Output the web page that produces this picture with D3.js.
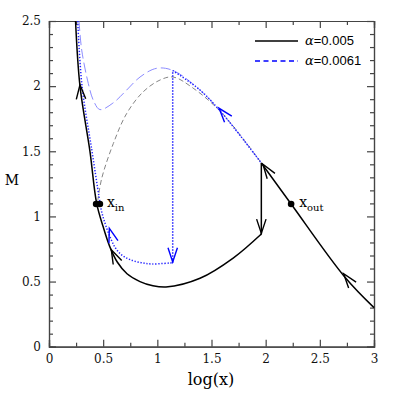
<!DOCTYPE html>
<html>
<head>
<meta charset="utf-8">
<script src="https://cdn.jsdelivr.net/npm/d3@7"></script>
<style>
  body { margin: 0; background: #fff; }
  svg text { font-family: "DejaVu Serif", "Liberation Serif", serif; }
</style>
</head>
<body>
<div id="chart"></div>
<script>
// alpha = 0.005 (black), solid branch: top -> x_in -> minimum -> jump point
const blackLower = [[0.245, 2.5], [0.286, 2.0], [0.378, 1.5], [0.44, 1.10], [0.50, 0.92],
  [0.56, 0.77], [0.63, 0.65], [0.72, 0.56], [0.84, 0.50], [0.95, 0.47], [1.08, 0.458],
  [1.394, 0.525], [1.70, 0.68], [1.96, 0.865]];
const blackJump = [[1.96, 0.865], [1.96, 1.41]];
const blackUpper = [[1.96, 1.41], [2.235, 1.095], [2.73, 0.535], [3.0, 0.30]];
// alpha = 0.005 unstable branch (grey dashed)
const blackDashed = [[0.45, 1.12], [0.486, 1.29], [0.594, 1.56], [0.717, 1.79], [0.87, 1.957],
  [1.025, 2.047], [1.145, 2.07], [1.33, 1.985], [1.6, 1.79], [1.96, 1.41]];
// alpha = 0.0061 (blue)
const blueDashed = [[0.277, 2.5], [0.302, 2.277], [0.363, 2.02], [0.41, 1.89], [0.47, 1.82],
  [0.59, 1.87], [0.717, 1.97], [0.84, 2.07], [0.994, 2.137], [1.145, 2.12], [1.394, 1.97], [1.6, 1.79], [1.96, 1.41]];
const blueDotted = [[0.265, 2.5], [0.305, 2.0], [0.397, 1.5], [0.462, 1.15], [0.485, 1.04],
  [0.52, 0.94], [0.565, 0.84], [0.61, 0.762], [0.67, 0.705], [0.75, 0.668], [0.85, 0.645],
  [0.95, 0.635], [1.142, 0.645]];
const blueJump = [[1.142, 0.645], [1.142, 2.12]];
const blueUpper = [[1.142, 2.12], [1.394, 1.97], [1.6, 1.79], [1.96, 1.41]];

// arrows: tip point and a point behind it (direction of travel)
const arrows = [
  { tip: [0.286, 2.01], from: [0.30, 1.85], color: '#000' },
  { tip: [0.575, 0.745], from: [0.63, 0.65], color: '#000' },
  { tip: [1.96, 0.87], from: [1.96, 1.05], color: '#000' },
  { tip: [1.975, 1.40], from: [2.10, 1.25], color: '#000' },
  { tip: [2.72, 0.56], from: [2.85, 0.42], color: '#000' },
  { tip: [0.557, 0.909], from: [0.60, 0.79], color: '#0000ff' },
  { tip: [1.142, 0.65], from: [1.142, 0.84], color: '#0000ff' },
  { tip: [1.57, 1.83], from: [1.70, 1.70], color: '#0000ff' }
];
const dots = [[0.435, 1.095], [0.47, 1.095], [2.235, 1.095]];
const legendItems = ['0.005', '0.0061'];

const width = 395, height = 395;
const svg = d3.select('#chart').append('svg')
  .attr('width', width).attr('height', height);

const x = d3.scaleLinear().domain([0, 3]).range([49, 374]);
const y = d3.scaleLinear().domain([0, 2.5]).range([346.7, 21]);

const line = d3.line().x(d => x(d[0])).y(d => y(d[1])).curve(d3.curveCatmullRom.alpha(0.5));
const straight = d3.line().x(d => x(d[0])).y(d => y(d[1]));

// axes, ticks inward on all four sides
const axisColor = '#444';
function styleAxis(g) {
  g.select('.domain').attr('stroke', axisColor).attr('stroke-width', 1.2);
  g.selectAll('.tick line').attr('stroke', axisColor).attr('stroke-width', 1.2);
  g.selectAll('.tick text').attr('fill', '#111').style('font-size', '12px')
    .style('font-family', '"DejaVu Serif", serif');
}
const xMajor = [0, 0.5, 1, 1.5, 2, 2.5, 3];
const xMinor = d3.range(0.25, 3, 0.5);
const yMajor = [0, 0.5, 1, 1.5, 2, 2.5];
const yMinor = d3.range(0, 2.5, 0.1).filter(v => Math.abs(v * 2 - Math.round(v * 2)) > 1e-6);

svg.append('g').attr('transform', `translate(0,${y(0)})`)
  .call(d3.axisBottom(x).tickValues(xMajor).tickSize(-7).tickPadding(8).tickFormat(d3.format('')))
  .call(styleAxis);
svg.append('g').attr('transform', `translate(0,${y(0)})`)
  .call(d3.axisBottom(x).tickValues(xMinor).tickSize(-4).tickFormat(''))
  .call(styleAxis);
svg.append('g').attr('transform', `translate(0,${y(2.5)})`)
  .call(d3.axisTop(x).tickValues(xMajor).tickSize(-7).tickFormat(''))
  .call(styleAxis);
svg.append('g').attr('transform', `translate(0,${y(2.5)})`)
  .call(d3.axisTop(x).tickValues(xMinor).tickSize(-4).tickFormat(''))
  .call(styleAxis);
svg.append('g').attr('transform', `translate(${x(0)},0)`)
  .call(d3.axisLeft(y).tickValues(yMajor).tickSize(-7).tickPadding(8).tickFormat(d3.format('')))
  .call(styleAxis);
svg.append('g').attr('transform', `translate(${x(0)},0)`)
  .call(d3.axisLeft(y).tickValues(yMinor).tickSize(-4).tickFormat(''))
  .call(styleAxis);
svg.append('g').attr('transform', `translate(${x(3)},0)`)
  .call(d3.axisRight(y).tickValues(yMajor).tickSize(-7).tickFormat(''))
  .call(styleAxis);
svg.append('g').attr('transform', `translate(${x(3)},0)`)
  .call(d3.axisRight(y).tickValues(yMinor).tickSize(-4).tickFormat(''))
  .call(styleAxis);

// axis titles
svg.append('text').attr('x', 211).attr('y', 385).attr('text-anchor', 'middle')
  .style('font-size', '16px').text('log(x)');
svg.append('text').attr('x', 12).attr('y', 185).attr('text-anchor', 'middle')
  .style('font-size', '14px').text('M');

const plot = svg.append('g');

// unstable branches
plot.append('path').attr('d', line(blackDashed)).attr('fill', 'none')
  .attr('stroke', '#777').attr('stroke-width', 0.9).attr('stroke-dasharray', '5,3');
plot.append('path').attr('d', line(blueDashed)).attr('fill', 'none')
  .attr('stroke', '#8c8cff').attr('stroke-width', 1).attr('stroke-dasharray', '10,4');

// blue (alpha = 0.0061) dotted cycle
[line(blueDotted), straight(blueJump), line(blueUpper)].forEach(d => {
  plot.append('path').attr('d', d).attr('fill', 'none')
    .attr('stroke', '#2222ff').attr('stroke-width', 1.5).attr('stroke-dasharray', '1.3,1.7');
});

// black (alpha = 0.005) solid cycle
[line(blackLower), straight(blackJump), line(blackUpper)].forEach(d => {
  plot.append('path').attr('d', d).attr('fill', 'none')
    .attr('stroke', '#000').attr('stroke-width', 1.5);
});

// chevron arrows
arrows.forEach(a => {
  const tx = x(a.tip[0]), ty = y(a.tip[1]);
  const ang = Math.atan2(ty - y(a.from[1]), tx - x(a.from[0]));
  const len = 15, spread = 0.32;
  const p1 = [tx - len * Math.cos(ang - spread), ty - len * Math.sin(ang - spread)];
  const p2 = [tx - len * Math.cos(ang + spread), ty - len * Math.sin(ang + spread)];
  plot.append('path')
    .attr('d', `M${p1[0]},${p1[1]}L${tx},${ty}L${p2[0]},${p2[1]}`)
    .attr('fill', 'none').attr('stroke', a.color).attr('stroke-width', 1.4);
});

// x_in / x_out points
plot.selectAll('circle.pt').data(dots).enter().append('circle')
  .attr('class', 'pt')
  .attr('cx', d => x(d[0])).attr('cy', d => y(d[1])).attr('r', 3.3).attr('fill', '#000');

function subLabel(px, py, sub) {
  const t = svg.append('text').attr('x', px).attr('y', py).style('font-size', '14px');
  t.append('tspan').text('x');
  t.append('tspan').attr('dy', 4).style('font-size', '10px').text(sub);
}
subLabel(x(0.47) + 7, y(1.095) + 3, 'in');
subLabel(x(2.235) + 8, y(1.095) + 3, 'out');

// legend
const legend = svg.append('g');
legendItems.forEach((v, i) => {
  const ly = 41 + i * 20;
  legend.append('line').attr('x1', 255).attr('x2', 298).attr('y1', ly).attr('y2', ly)
    .attr('stroke', i === 0 ? '#000' : '#0000ff').attr('stroke-width', 1.3)
    .attr('stroke-dasharray', i === 0 ? null : '5,3.5');
  const t = legend.append('text').attr('x', 305).attr('y', ly + 4)
    .style('font-size', '13px').style('font-family', '"Liberation Sans", sans-serif');
  t.append('tspan').style('font-style', 'italic').style('font-family', '"DejaVu Serif", serif').text('α');
  t.append('tspan').text('=' + v);
});
</script>
</body>
</html>
